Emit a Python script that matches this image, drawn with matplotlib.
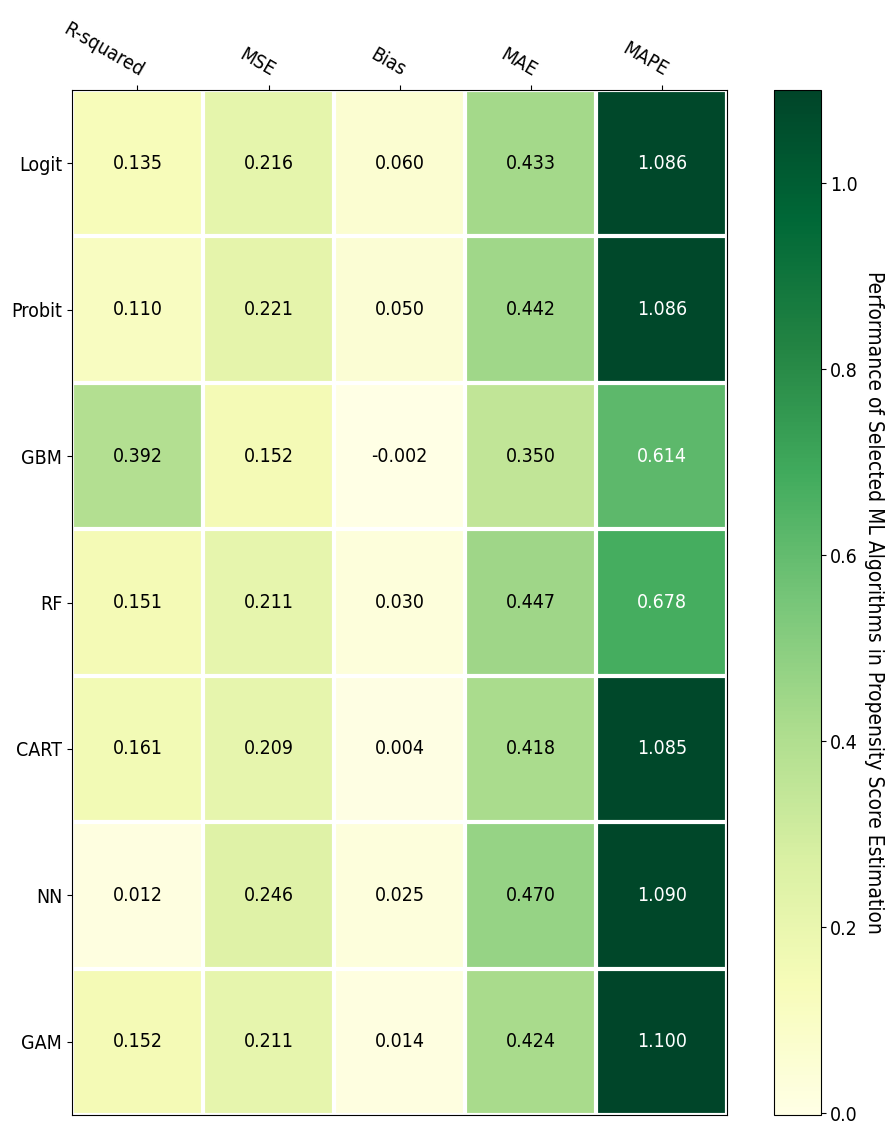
import numpy as np
import matplotlib
matplotlib.use("Agg")
import matplotlib.pyplot as plt

models = ["Logit", "Probit", "GBM", "RF", "CART", "NN", "GAM"]
metrics = ["R-squared", "MSE", "Bias", "MAE", "MAPE"]
r_squared = [0.135, 0.110, 0.392, 0.151, 0.161, 0.012, 0.152]
mse = [0.216, 0.221, 0.152, 0.211, 0.209, 0.246, 0.211]
bias = [0.060, 0.050, -0.002, 0.030, 0.004, 0.025, 0.014]
mae = [0.433, 0.442, 0.350, 0.447, 0.418, 0.470, 0.424]
mape = [1.086, 1.086, 0.614, 0.678, 1.085, 1.090, 1.100]

data = np.array([r_squared, mse, bias, mae, mape]).T

plt.rcParams['font.family'] = ['DejaVu Sans']
plt.rcParams['font.stretch'] = 'condensed'
FS = 14

fig = plt.figure(figsize=(8.88, 11.27), dpi=100)
ax = fig.add_axes([0.081, 0.0106, 0.738, 0.9095])
cax = fig.add_axes([0.872, 0.0106, 0.052, 0.9095])

im = ax.imshow(data, cmap="YlGn", aspect="auto")
cbar = fig.colorbar(im, cax=cax)
cbar.ax.set_ylabel("Performance of Selected ML Algorithms in Propensity Score Estimation",
                   rotation=-90, va="bottom", fontsize=15, fontstretch='condensed')
cbar.ax.tick_params(labelsize=FS)

ax.set_xticks(np.arange(len(metrics)))
ax.set_yticks(np.arange(len(models)))
ax.set_xticklabels(metrics, fontsize=FS, fontstretch='condensed')
ax.set_yticklabels(models, fontsize=FS, fontstretch='condensed')
ax.tick_params(top=True, bottom=False, labeltop=True, labelbottom=False)
plt.setp(ax.get_xticklabels(), rotation=-30, ha="right", rotation_mode="anchor")

ax.set_xticks(np.arange(data.shape[1] + 1) - .5, minor=True)
ax.set_yticks(np.arange(data.shape[0] + 1) - .5, minor=True)
ax.grid(which="minor", color="w", linestyle="-", linewidth=3)
ax.tick_params(which="minor", bottom=False, left=False, top=False)

threshold = im.norm(data.max()) / 2.
for i in range(data.shape[0]):
    for j in range(data.shape[1]):
        c = "white" if im.norm(data[i, j]) > threshold else "black"
        ax.text(j, i, f"{data[i, j]:.3f}", ha="center", va="center", color=c,
                fontsize=FS, fontstretch='condensed')

fig.savefig("out.png", dpi=100)
